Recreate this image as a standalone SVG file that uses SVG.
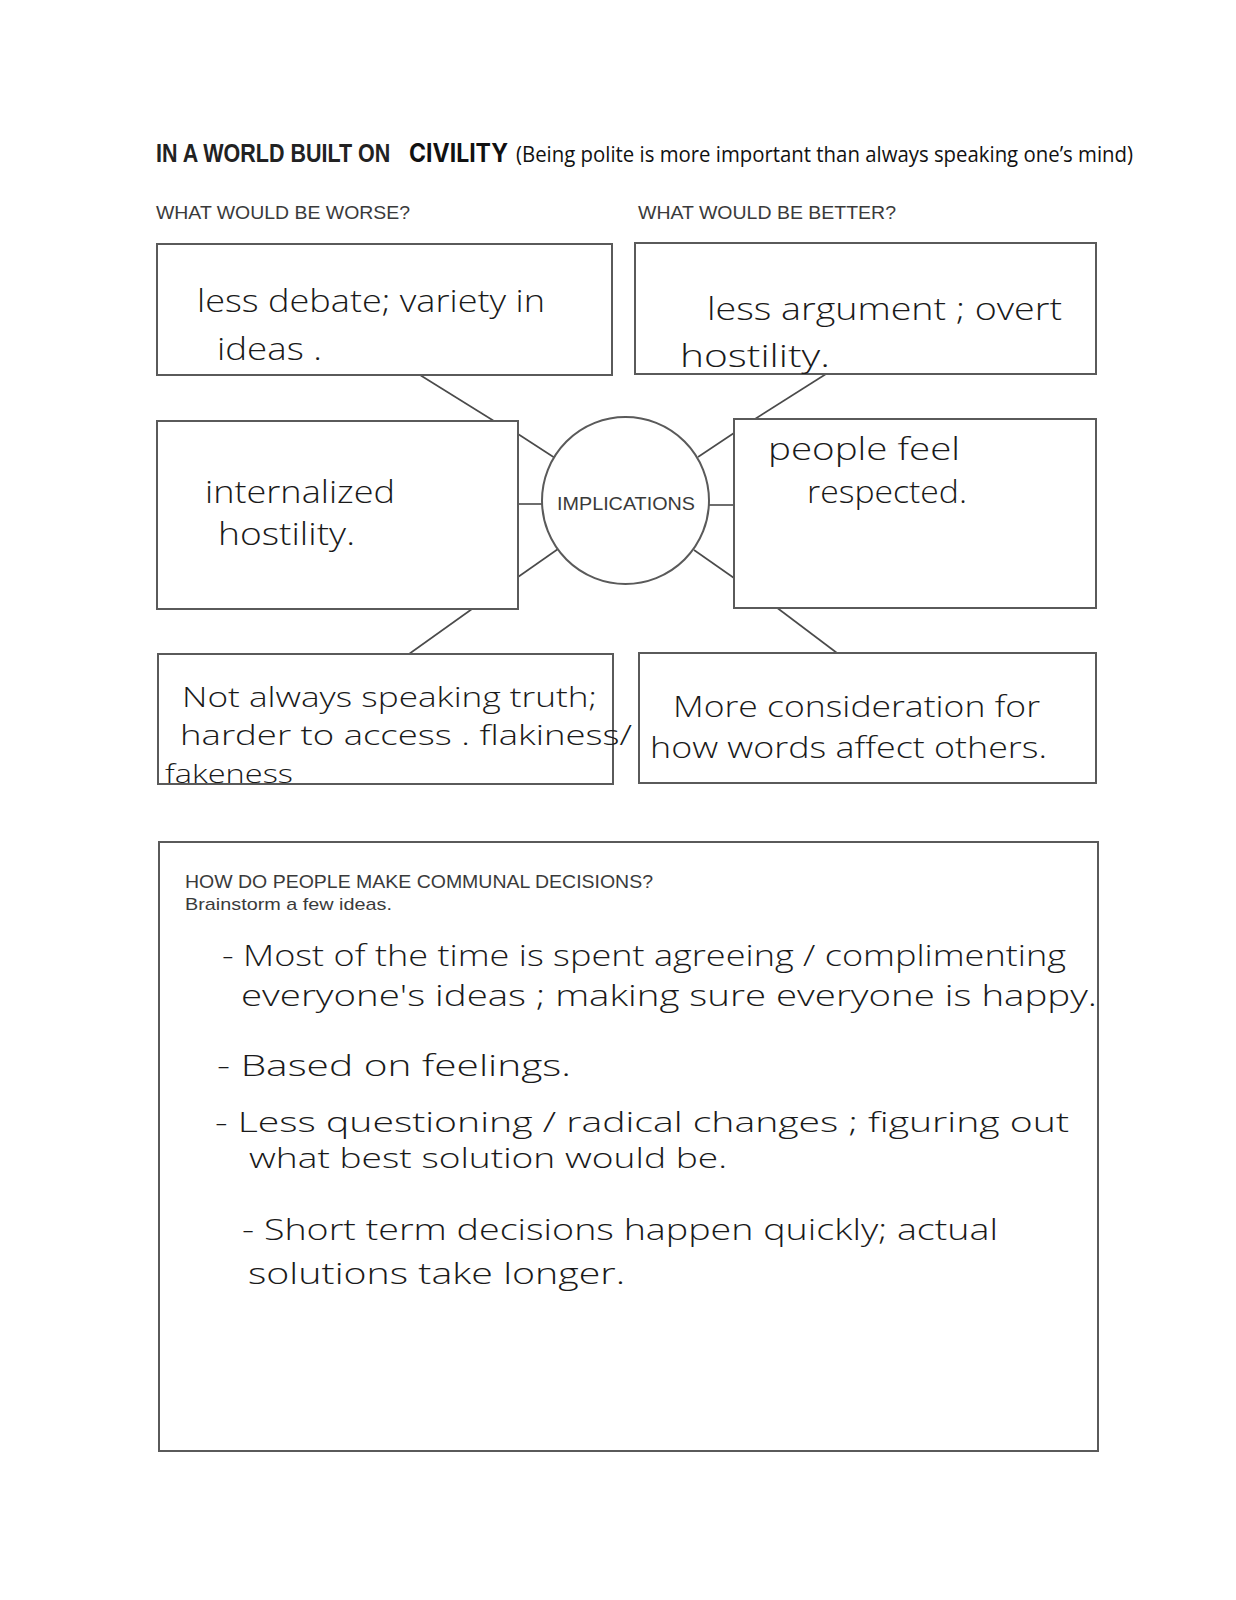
<svg xmlns="http://www.w3.org/2000/svg" width="1236" height="1600" viewBox="0 0 1236 1600">
<style>
  .box { fill: #ffffff; stroke: #5a5a5a; stroke-width: 2; }
  .conn { stroke: #4a4a4a; stroke-width: 1.6; fill: none; }
  .print { font-family: "Liberation Sans", Arial, sans-serif; fill: #3a3a3a; }
  .title { font-family: "Liberation Sans", Arial, sans-serif; font-weight: bold; fill: #222; }
  .hand { font-family: "Open Sans", "Noto Sans", sans-serif; font-weight: 300; fill: #1a1a1a; }
</style>
<rect width="1236" height="1600" fill="#ffffff"/>

<g id="title">
  <text class="title" transform="translate(156,162) scale(0.86,1)" x="0" y="0" font-size="25">IN A WORLD BUILT ON</text>
  <text x="409" y="162" font-family="Inter, 'Open Sans', sans-serif" font-weight="bold" font-size="25" fill="#111" textLength="99" lengthAdjust="spacingAndGlyphs">CIVILITY</text>
  <text x="516" y="162" font-family="'Open Sans', 'Noto Sans', sans-serif" font-size="21" fill="#111" textLength="617" lengthAdjust="spacingAndGlyphs">(Being polite is more important than always speaking one’s mind)</text>
</g>

<g id="headers">
  <text class="print" x="156" y="219" font-size="19" textLength="254" lengthAdjust="spacingAndGlyphs">WHAT WOULD BE WORSE?</text>
  <text class="print" x="638" y="219" font-size="19" textLength="258" lengthAdjust="spacingAndGlyphs">WHAT WOULD BE BETTER?</text>
</g>

<g id="connectors">
  <line class="conn" x1="420" y1="375" x2="494" y2="421"/>
  <line class="conn" x1="826" y1="374" x2="755" y2="419"/>
  <line class="conn" x1="518" y1="434" x2="555" y2="458"/>
  <line class="conn" x1="518" y1="504" x2="543" y2="504"/>
  <line class="conn" x1="518" y1="577" x2="558" y2="549"/>
  <line class="conn" x1="734" y1="433" x2="698" y2="457"/>
  <line class="conn" x1="708" y1="505" x2="734" y2="505"/>
  <line class="conn" x1="734" y1="578" x2="694" y2="550"/>
  <line class="conn" x1="472" y1="609" x2="409" y2="654"/>
  <line class="conn" x1="776" y1="607" x2="837" y2="653"/>
</g>

<g id="node-implications">
  <circle class="box" cx="625.5" cy="500.5" r="83.5"/>
  <text class="print" x="626" y="510" font-size="18" text-anchor="middle" textLength="138" lengthAdjust="spacingAndGlyphs">IMPLICATIONS</text>
</g>

<g id="node-worse-1">
  <rect class="box" x="157" y="244" width="455" height="131"/>
  <text class="hand" x="197" y="312" font-size="31" textLength="348" lengthAdjust="spacingAndGlyphs">less debate; variety in</text>
  <text class="hand" x="217" y="360" font-size="31" textLength="105" lengthAdjust="spacingAndGlyphs">ideas .</text>
</g>

<g id="node-better-1">
  <rect class="box" x="635" y="243" width="461" height="131"/>
  <text class="hand" x="707" y="320" font-size="31" textLength="355" lengthAdjust="spacingAndGlyphs">less argument ; overt</text>
  <text class="hand" x="680" y="367" font-size="31" textLength="150" lengthAdjust="spacingAndGlyphs">hostility.</text>
</g>

<g id="node-worse-2">
  <rect class="box" x="157" y="421" width="361" height="188"/>
  <text class="hand" x="205" y="503" font-size="31" textLength="190" lengthAdjust="spacingAndGlyphs">internalized</text>
  <text class="hand" x="218" y="545" font-size="31" textLength="137" lengthAdjust="spacingAndGlyphs">hostility.</text>
</g>

<g id="node-better-2">
  <rect class="box" x="734" y="419" width="362" height="189"/>
  <text class="hand" x="768" y="460" font-size="31" textLength="192" lengthAdjust="spacingAndGlyphs">people feel</text>
  <text class="hand" x="807" y="503" font-size="31" textLength="160" lengthAdjust="spacingAndGlyphs">respected.</text>
</g>

<g id="node-worse-3">
  <rect class="box" x="158" y="654" width="455" height="130"/>
  <text class="hand" x="182" y="707" font-size="28" textLength="415" lengthAdjust="spacingAndGlyphs">Not always speaking truth;</text>
  <text class="hand" x="180" y="745" font-size="28" textLength="452" lengthAdjust="spacingAndGlyphs">harder to access . flakiness/</text>
  <text class="hand" x="165" y="783" font-size="26" textLength="128" lengthAdjust="spacingAndGlyphs">fakeness</text>
</g>

<g id="node-better-3">
  <rect class="box" x="639" y="653" width="457" height="130"/>
  <text class="hand" x="673" y="717" font-size="30" textLength="367" lengthAdjust="spacingAndGlyphs">More consideration for</text>
  <text class="hand" x="650" y="758" font-size="30" textLength="397" lengthAdjust="spacingAndGlyphs">how words affect others.</text>
</g>

<g id="node-decisions">
  <rect class="box" x="159" y="842" width="939" height="609"/>
  <text class="print" x="185" y="888" font-size="18" textLength="468" lengthAdjust="spacingAndGlyphs">HOW DO PEOPLE MAKE COMMUNAL DECISIONS?</text>
  <text class="print" x="185" y="910" font-size="17" textLength="207" lengthAdjust="spacingAndGlyphs">Brainstorm a few ideas.</text>
  <text class="hand" x="222" y="966" font-size="30" textLength="844" lengthAdjust="spacingAndGlyphs">- Most of the time is spent agreeing / complimenting</text>
  <text class="hand" x="241" y="1006" font-size="30" textLength="856" lengthAdjust="spacingAndGlyphs">everyone's ideas ; making sure everyone is happy.</text>
  <text class="hand" x="217" y="1076" font-size="30" textLength="354" lengthAdjust="spacingAndGlyphs">- Based on feelings.</text>
  <text class="hand" x="215" y="1132" font-size="27" textLength="854" lengthAdjust="spacingAndGlyphs">- Less questioning / radical changes ; figuring out</text>
  <text class="hand" x="249" y="1168" font-size="27" textLength="478" lengthAdjust="spacingAndGlyphs">what best solution would be.</text>
  <text class="hand" x="242" y="1240" font-size="30" textLength="756" lengthAdjust="spacingAndGlyphs">- Short term decisions happen quickly; actual</text>
  <text class="hand" x="248" y="1284" font-size="30" textLength="377" lengthAdjust="spacingAndGlyphs">solutions take longer.</text>
</g>
</svg>
